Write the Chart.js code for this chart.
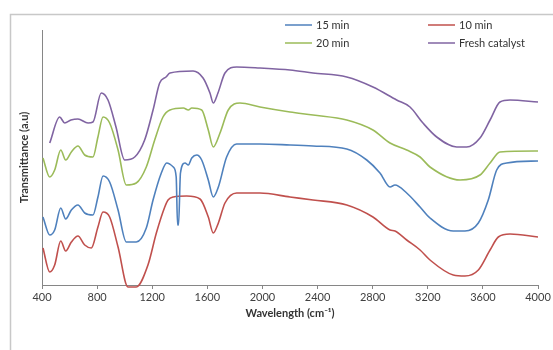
<!DOCTYPE html>
<html>
<head>
<meta charset="utf-8">
<script src="https://cdn.jsdelivr.net/npm/chart.js@4"></script>
<style>
  html, body { margin: 0; padding: 0; background: #fff; }
  #wrap { width: 553px; height: 350px; position: relative; }
</style>
</head>
<body>
<div id="wrap"><canvas id="grafico" width="553" height="350"></canvas></div>
<script>
// wavenumber (cm-1) and transmittance (a.u.)
const wn15 = [407, 456, 492, 536, 572, 613, 661, 710, 770, 806, 843, 891, 952, 1012, 1084, 1157, 1206, 1266, 1305, 1353, 1374, 1384, 1391, 1405, 1438, 1462, 1487, 1523, 1559, 1607, 1643, 1680, 1740, 1813, 1982, 2200, 2367, 2612, 2757, 2853, 2926, 2962, 3047, 3144, 3216, 3385, 3470, 3567, 3639, 3700, 3773, 4000];
const t15 = [68, 50, 55, 77, 66, 75, 80, 72, 70, 88, 109, 103, 75, 43, 43, 57, 85, 112, 122, 118, 108, 60, 60, 112, 122, 120, 127, 130, 125, 105, 88, 98, 128, 141, 141, 140, 139, 136, 125, 112, 98, 100, 92, 78, 67, 54, 54, 62, 85, 115, 122, 124];

const wn10 = [407, 456, 492, 536, 572, 613, 661, 710, 758, 806, 843, 891, 952, 1024, 1084, 1169, 1230, 1291, 1315, 1353, 1450, 1547, 1607, 1643, 1680, 1728, 1813, 1982, 2200, 2367, 2612, 2802, 2926, 2962, 3047, 3144, 3216, 3385, 3470, 3567, 3652, 3712, 3797, 4000];
const t10 = [37, 13, 20, 44, 34, 43, 49, 40, 37, 58, 73, 68, 38, -2, -2, 20, 52, 78, 85, 88, 89, 86, 68, 52, 62, 82, 92, 92, 88, 85, 80, 68, 55, 54, 45, 35, 25, 10, 9, 15, 35, 48, 51, 48];

const wn20 = [407, 456, 492, 536, 572, 613, 661, 710, 770, 806, 843, 891, 952, 1012, 1084, 1157, 1218, 1278, 1329, 1426, 1462, 1487, 1559, 1607, 1643, 1692, 1752, 1837, 1982, 2200, 2367, 2612, 2802, 2926, 3047, 3144, 3216, 3434, 3579, 3652, 3724, 4000];
const t20 = [127, 108, 115, 135, 125, 133, 139, 130, 128, 148, 168, 162, 135, 100, 102, 118, 145, 168, 175, 177, 175, 177, 175, 155, 138, 152, 175, 182, 178, 173, 170, 165, 155, 142, 135, 128, 118, 105, 110, 122, 133, 134];

const wnFresh = [456, 528, 565, 610, 661, 734, 770, 830, 879, 937, 1000, 1073, 1145, 1206, 1254, 1300, 1329, 1496, 1569, 1619, 1643, 1677, 1728, 1813, 1982, 2200, 2367, 2612, 2802, 2974, 3071, 3165, 3265, 3410, 3482, 3579, 3652, 3724, 3797, 4000];
const tFresh = [142, 168, 162, 165, 166, 162, 163, 192, 185, 158, 125, 128, 145, 175, 202, 208, 212, 214, 207, 192, 182, 192, 212, 218, 217, 215, 212, 208, 198, 185, 178, 162, 148, 138, 138, 147, 165, 183, 185, 183];

const xTicks = [400, 800, 1200, 1600, 2000, 2400, 2800, 3200, 3600, 4000];

function pontos(xs, ys) {
  return xs.map((x, i) => ({ x: x, y: ys[i] }));
}

const serie = (label, xs, ys, cor) => ({
  label,
  data: pontos(xs, ys),
  borderColor: cor,
  backgroundColor: cor,
  borderWidth: 1.6,
  pointRadius: 0,
  cubicInterpolationMode: "monotone",
  clip: false
});

// frame around the whole chart
const moldura = {
  id: "moldura",
  beforeDraw(chart) {
    const ctx = chart.ctx;
    ctx.save();
    ctx.fillStyle = "#fff";
    ctx.fillRect(0, 0, chart.width, chart.height);
    ctx.strokeStyle = "#c8c8c8";
    ctx.lineWidth = 1.5;
    ctx.strokeRect(10.5, 14.5, 600, 400);
    ctx.restore();
  }
};

// two-column legend at the top right
const legenda = {
  id: "legenda",
  afterDraw(chart) {
    const ctx = chart.ctx;
    const cols = [285, 428];
    const rows = [25, 43];
    ctx.save();
    ctx.font = "11px Lato, 'Liberation Sans', sans-serif";
    ctx.textBaseline = "middle";
    chart.data.datasets.forEach((ds, i) => {
      const x = cols[i % 2];
      const y = rows[Math.floor(i / 2)];
      ctx.strokeStyle = ds.borderColor;
      ctx.lineWidth = 1.5;
      ctx.beginPath();
      ctx.moveTo(x, y);
      ctx.lineTo(x + 27, y);
      ctx.stroke();
      ctx.fillStyle = "#333";
      ctx.fillText(ds.label, x + 31, y + 0.5);
    });
    ctx.restore();
  }
};

new Chart(document.getElementById("grafico"), {
  type: "line",
  data: {
    datasets: [
      serie("15 min", wn15, t15, "#4f81bd"),
      serie("10 min", wn10, t10, "#c0504d"),
      serie("20 min", wn20, t20, "#9bbb59"),
      serie("Fresh catalyst", wnFresh, tFresh, "#8064a2")
    ]
  },
  options: {
    responsive: false,
    animation: false,
    layout: { padding: { left: 18, right: 15, top: 30, bottom: 30 } },
    plugins: {
      legend: { display: false },
      tooltip: { enabled: false }
    },
    scales: {
      x: {
        type: "linear",
        min: 400,
        max: 4000,
        afterBuildTicks(axis) {
          axis.ticks = xTicks.map(v => ({ value: v }));
        },
        afterFit(axis) { axis.height = 35; },
        ticks: {
          color: "#404040",
          padding: 2,
          maxRotation: 0,
          callback: v => String(v),
          font: { family: "Lato, 'Liberation Sans', sans-serif", size: 11 }
        },
        grid: {
          drawOnChartArea: false,
          tickLength: 4,
          color: "#868686"
        },
        border: { color: "#868686" },
        title: {
          display: true,
          text: "Wavelength (cm⁻¹)",
          color: "#333",
          padding: { top: 4, bottom: 0 },
          font: { family: "Lato, 'Liberation Sans', sans-serif", size: 11, weight: "bold" }
        }
      },
      y: {
        min: 0,
        max: 255,
        afterFit(axis) { axis.width = 24; },
        ticks: { display: false },
        grid: { drawOnChartArea: false, drawTicks: false },
        border: { color: "#868686" },
        title: {
          display: true,
          text: "Transmittance (a.u)",
          color: "#333",
          padding: { top: 0, bottom: 0 },
          font: { family: "Lato, 'Liberation Sans', sans-serif", size: 11, weight: "bold" }
        }
      }
    }
  },
  plugins: [moldura, legenda]
});
</script>
</body>
</html>
